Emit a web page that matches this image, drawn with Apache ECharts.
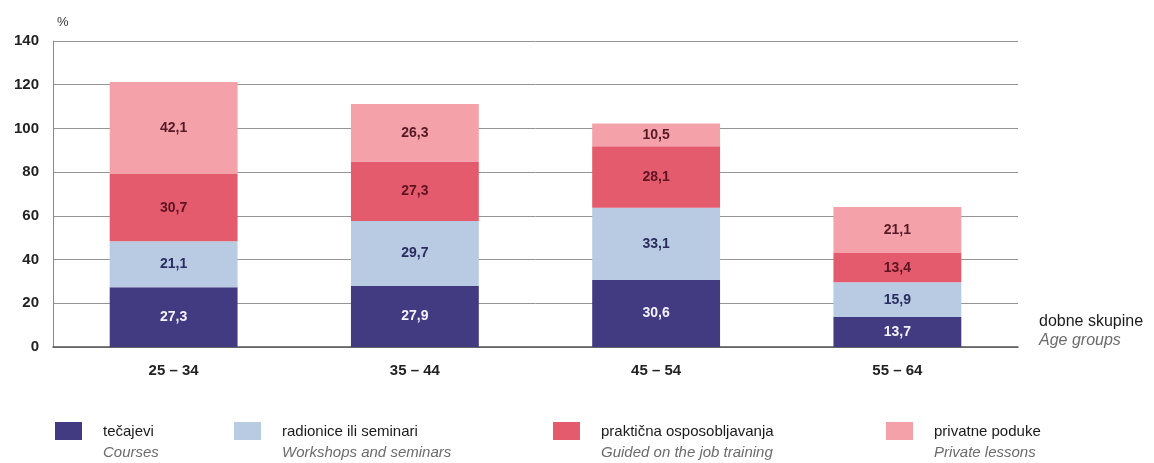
<!DOCTYPE html>
<html><head><meta charset="utf-8">
<script src="https://cdn.jsdelivr.net/npm/echarts@6/dist/echarts.min.js"></script>
<style>html,body{margin:0;padding:0;background:#fff}#c{width:1154px;height:463px}</style>
</head><body><div id="c"></div>
<script>
const categories = ['25 – 34', '35 – 44', '45 – 54', '55 – 64'];
const tecajevi = [27.3, 27.9, 30.6, 13.7];
const radionice = [21.1, 29.7, 33.1, 15.9];
const prakticna = [30.7, 27.3, 28.1, 13.4];
const privatne = [42.1, 26.3, 10.5, 21.1];
const seriesNames = ['tečajevi', 'radionice ili seminari', 'praktična osposobljavanja', 'privatne poduke'];
const seriesNamesEn = ['Courses', 'Workshops and seminars', 'Guided on the job training', 'Private lessons'];
const yTicks = [0, 20, 40, 60, 80, 100, 120, 140];

const FONT = "'Liberation Sans Narrow', 'Liberation Sans', Arial, sans-serif";
const colors = ['#433b82', '#b9cbe3', '#e35b6c', '#f4a1a9'];
const labelColors = ['#f4f2ff', '#2a2c60', '#5e1422', '#561a26'];
const dataSets = [tecajevi, radionice, prakticna, privatne];

const chart = echarts.init(document.getElementById('c'), null, {renderer: 'canvas'});
const legendLefts = [55, 234, 553, 886];
const legends = seriesNames.map((n, i) => ({
  data: [n], left: legendLefts[i], top: 422, orient: 'horizontal', padding: 0,
  itemWidth: 27, itemHeight: 18, itemGap: 0, icon: 'rect',
  selectedMode: false,
  formatter: name => '{a|' + name + '}\n{b|' + seriesNamesEn[i] + '}',
  textStyle: {
    fontFamily: FONT, padding: [22, 0, 0, 16],
    rich: {
      a: {fontSize: 15, color: '#1a1a1a', fontFamily: FONT, lineHeight: 22},
      b: {fontSize: 15, color: '#6b6b6b', fontStyle: 'italic', fontFamily: FONT, lineHeight: 21}
    }
  }
}));

chart.setOption({
  animation: false,
  color: colors,
  grid: {left: 53, right: 136, top: 41, bottom: 116},
  legend: legends,
  xAxis: {
    type: 'category', data: categories,
    axisLine: {show: true, lineStyle: {color: '#555', width: 1.5}},
    axisTick: {show: false},
    axisLabel: {fontFamily: FONT, fontSize: 15, color: '#222', margin: 16, fontWeight: 'bold'}
  },
  yAxis: {
    type: 'value', min: yTicks[0], max: yTicks[yTicks.length - 1], interval: 20,
    name: '%', nameLocation: 'end', nameGap: 12,
    nameTextStyle: {fontFamily: FONT, fontSize: 13, color: '#333', align: 'left', padding: [0, 0, 0, 4]},
    axisLine: {show: true, lineStyle: {color: '#8a8a8a', width: 1}},
    axisTick: {show: false},
    splitLine: {lineStyle: {color: '#959595', width: 1}},
    axisLabel: {fontFamily: FONT, fontSize: 15, color: '#222', margin: 14, fontWeight: 'bold'}
  },
  graphic: [
    {type: 'text', left: 1039, top: 314, style: {text: 'dobne skupine', font: '16px ' + FONT, fill: '#1a1a1a'}},
    {type: 'text', left: 1039, top: 333, style: {text: 'Age groups', font: 'italic 16px ' + FONT, fill: '#6b6b6b'}}
  ],
  series: dataSets.map((d, i) => ({
    name: seriesNames[i], type: 'bar', stack: 'total', data: d,
    barWidth: '53%',
    itemStyle: {color: colors[i]},
    label: {
      show: true, position: 'inside', fontFamily: FONT, fontSize: 14, fontWeight: 'bold',
      color: labelColors[i],
      formatter: p => p.value.toFixed(1).replace('.', ',')
    }
  }))
});
</script></body></html>
